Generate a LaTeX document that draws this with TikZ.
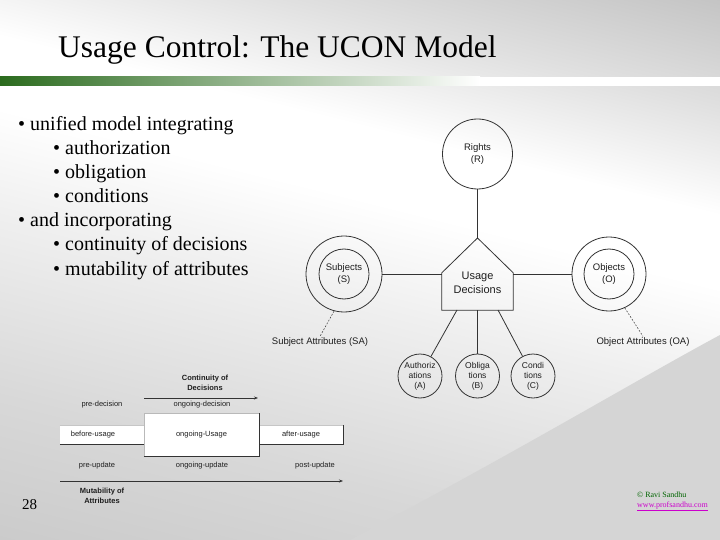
\documentclass[tikz,border=0pt]{standalone}
\usepackage{fontspec}
\setmainfont{Liberation Serif}
\newfontfamily\arial{Liberation Sans}
\usetikzlibrary{arrows.meta}
\definecolor{lineC}{HTML}{333333}
\definecolor{txtC}{HTML}{1E1E1E}
\definecolor{barG}{HTML}{2B6B1E}
\definecolor{swooshC}{HTML}{D5D5D5}
\definecolor{bgA}{HTML}{CBCBCB}
\definecolor{bgB}{HTML}{D8D8D8}
\definecolor{bgC}{HTML}{EFEFEF}
\definecolor{bgD}{HTML}{E0E0E0}
\definecolor{bgE}{HTML}{C4C4C4}
\definecolor{copyG}{HTML}{006400}
\definecolor{linkM}{HTML}{CC00CC}
\pgfdeclareverticalshading{bgsh}{100bp}{color(0bp)=(bgA); color(25bp)=(bgA); color(35bp)=(bgB); color(47.5bp)=(bgC); color(55bp)=(white); color(60bp)=(white); color(67.5bp)=(bgD); color(75bp)=(bgE); color(100bp)=(bgE)}
\tikzset{
  ln/.style={draw=lineC, line width=0.8pt},
  circ/.style={circle, draw=lineC, line width=0.8pt, inner sep=0pt, minimum size=#1},
  dfont/.style={font=\arial\fontsize{9.5}{12.5}\selectfont, text=txtC},
  sfont/.style={font=\arial\fontsize{8.5}{10}\selectfont, text=txtC},
  tfont/.style={font=\arial\fontsize{7.5}{9.5}\selectfont, text=txtC},
  tbold/.style={font=\arial\bfseries\fontsize{7.5}{9.5}\selectfont, text=txtC},
  attrline/.style={draw=lineC, line width=0.5pt, dash pattern=on 1.8pt off 1.5pt},
  tarrow/.style={draw=lineC, line width=0.7pt, -{Stealth[length=4pt,width=3pt]}},
  lightedge/.style={draw=gray!45, line width=0.5pt},
  darkedge/.style={draw=lineC, line width=0.8pt},
  bul1/.style={anchor=base west, inner sep=0pt, font=\fontsize{20}{22}\selectfont},
}
\begin{document}
\begin{tikzpicture}[x=1pt,y=-1pt]
\useasboundingbox (0,0) rectangle (720,540);
% background
\begin{scope}
  \clip (0,0) rectangle (720,540);
  \begin{scope}[transform canvas={rotate around={-14:(360,270)}}]
    \shade[shading=bgsh] (-60,-80) rectangle (780,620);
  \end{scope}
  \fill[swooshC] (720,335) .. controls (640,378) and (520,450) .. (350,540) -- (720,540) -- cycle;
\end{scope}
% title bar
\shade[left color=barG, right color=white] (0,77) rectangle (480,86);
\fill[white] (480,77) rectangle (720,86);
\node[anchor=base west, inner sep=0pt, font=\fontsize{31.5}{36}\selectfont] (title) at (58,58) {Usage Control: The UCON Model};
% bullets
\node[bul1] (b1) at (18,131) {• unified model integrating};
\node[bul1] (b2) at (53,155) {• authorization};
\node[bul1] (b3) at (53,179) {• obligation};
\node[bul1] (b4) at (53,203) {• conditions};
\node[bul1] (b5) at (18,226) {• and incorporating};
\node[bul1] (b6) at (53,250) {• continuity of decisions};
\node[bul1] (b7) at (53,275) {• mutability of attributes};
% UCON model
\node[circ=70, dfont, align=center] (R) at (477.5,154) {Rights\\(R)};
\node[minimum width=71pt, minimum height=37pt, inner sep=0pt] (UD) at (477.5,291.5) {};
\coordinate (peak) at (477.5,238);
\draw[ln, line join=miter] (UD.south west) -- (UD.north west) -- (peak) -- (UD.north east) -- (UD.south east) -- cycle;
\node[font=\arial\fontsize{11}{14}\selectfont, text=txtC, align=center] (UDt) at (477.5,283) {Usage\\Decisions};
\node[circ=76] (S) at (344,274) {};
\node[circ=50, dfont, align=center] (Si) at (S) {Subjects\\(S)};
\node[circ=74] (O) at (609,274) {};
\node[circ=50, dfont, align=center] (Oi) at (O) {Objects\\(O)};
\node[circ=44, sfont, align=center] (A) at (420,376) {Authoriz\\ations\\(A)};
\node[circ=44, sfont, align=center] (B) at (477.5,376) {Obliga\\tions\\(B)};
\node[circ=44, sfont, align=center] (C) at (533,376) {Condi\\tions\\(C)};
\coordinate (ua) at (457,310);
\coordinate (uc) at (498,310);
\draw[ln] (R) -- (peak);
\draw[ln] (S) -- (S -| UD.west);
\draw[ln] (O) -- (O -| UD.east);
\draw[ln] (ua) -- (A);
\draw[ln] (UD.south) -- (B);
\draw[ln] (uc) -- (C);
\node[dfont, inner sep=1pt] (SA) at (320,342) {Subject Attributes (SA)};
\node[dfont, inner sep=1pt] (OA) at (643,342) {Object Attributes (OA)};
\draw[attrline] (S.-105) -- (SA.north);
\draw[attrline] (O.-65) -- (OA.north);
% continuity / mutability diagram
\node[tbold, align=center] (cont) at (205,383) {Continuity of\\Decisions};
\coordinate (cd1) at (144,398);
\coordinate (cd2) at (258,398);
\draw[tarrow] (cd1) -- (cd2);
\node[tfont] (pred) at (102,405) {pre-decision};
\node[tfont] (ongd) at (202,405) {ongoing-decision};
\node[fill=white, minimum width=84pt, minimum height=19pt, inner sep=0pt] (bbox) at (102,434.5) {};
\node[fill=white, minimum width=84pt, minimum height=19pt, inner sep=0pt, tfont] (abox) at (301,434.5) {after-usage};
\draw[lightedge] (bbox.north west) -- (bbox.north east);
\draw[darkedge] (bbox.south west) -- (bbox.south east);
\draw[lightedge] (abox.north west) -- (abox.north east);
\draw[darkedge] (abox.south west) -- (abox.south east) -- (abox.north east);
\node[fill=white, draw=gray!55, line width=0.5pt, minimum width=115pt, minimum height=43pt, inner sep=0pt, tfont] (obox) at (201.5,434.5) {ongoing-Usage};
\draw[darkedge] (obox.south west) -- (obox.south east) -- (obox.north east);
\node[tfont] (tbef) at (93,434.5) {before-usage};
\node[tfont] (preu) at (97,466) {pre-update};
\node[tfont] (ongu) at (202,466) {ongoing-update};
\node[tfont] (postu) at (315,466) {post-update};
\coordinate (ma1) at (60,481);
\coordinate (ma2) at (343,481);
\draw[tarrow] (ma1) -- (ma2);
\node[tbold, align=center] (mut) at (102,496) {Mutability of\\Attributes};
% footer
\node[anchor=base west, font=\fontsize{15}{17}\selectfont, inner sep=0pt] (pg) at (22,509) {28};
\node[anchor=base west, font=\fontsize{8}{9}\selectfont, text=copyG, inner sep=0pt] (cr) at (637,497) {© Ravi Sandhu};
\node[anchor=base west, font=\fontsize{8}{9}\selectfont, text=linkM, inner sep=0pt] (url) at (637,507) {\underline{www.profsandhu.com}};
\end{tikzpicture}
\end{document}
